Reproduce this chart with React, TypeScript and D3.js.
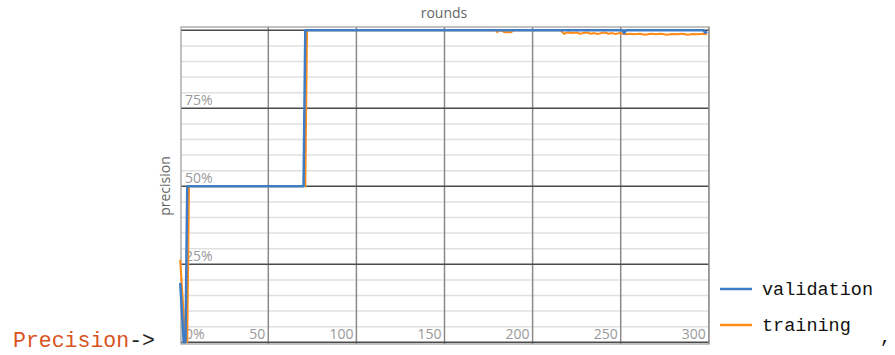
import React from "react";
import * as d3 from "d3";

const valRounds = [0, 2, 3, 4, 70, 71, 251, 252, 253, 297, 298, 299];
const valValues = [0.19, 0, 0, 0.5, 0.5, 1, 1, 0.99, 1, 1, 0.992, 0.996];

const trainRounds = [0, 3, 4, 5, 71, 72, 179, 180, 181, 182, 184, 185, 188, 189, 190, 216, 217, 218, 219, 221, 223, 225, 227, 229, 231, 233, 235, 237, 239, 241, 243, 245, 247, 249, 251, 253, 255, 258, 261, 264, 267, 270, 273, 276, 279, 282, 285, 288, 291, 294, 297, 299];
const trainValues = [0.265, 0, 0, 0.5, 0.5, 1, 1, 0.994, 1, 1, 0.994, 0.994, 0.994, 1, 1, 1, 0.993, 0.988, 0.992, 0.993, 0.991, 0.993, 0.989, 0.991, 0.993, 0.989, 0.991, 0.988, 0.991, 0.993, 0.989, 0.991, 0.988, 0.991, 0.989, 0.987, 0.989, 0.987, 0.989, 0.986, 0.989, 0.987, 0.989, 0.986, 0.988, 0.987, 0.989, 0.986, 0.988, 0.987, 0.989, 0.987];

const xTicks = [50, 100, 150, 200, 250, 300];
const yMajor = [0, 0.25, 0.5, 0.75, 1];
const yMinor = [0.05, 0.1, 0.15, 0.2, 0.3, 0.35, 0.4, 0.45, 0.55, 0.6, 0.65, 0.7, 0.8, 0.85, 0.9, 0.95];
const yLabels = [0, 0.25, 0.5, 0.75];

const series = [
  { name: "training", color: "#ff8c1a", rounds: trainRounds, values: trainValues, width: 2 },
  { name: "validation", color: "#3f7cc6", rounds: valRounds, values: valValues, width: 2.5 },
];

export default function App() {
  const x = d3.scaleLinear().domain([0, 300]).range([180.2, 708.8]);
  const y = d3.scaleLinear().domain([0, 1]).range([342.3, 30.3]);
  const line = d3
    .line<[number, number]>()
    .x((d) => x(d[0]))
    .y((d) => y(d[1]));
  const font = "'Open Sans', sans-serif";
  const mono = "'Liberation Mono', 'DejaVu Sans Mono', monospace";
  return (
    <svg width={895} height={355} style={{ position: "absolute", left: 0, top: 0, background: "#fff" }}>
      <text x={444} y={18} textAnchor="middle" fontFamily={font} fontSize={14} fill="#666">rounds</text>
      <text transform="translate(170,186) rotate(-90)" textAnchor="middle" fontFamily={font} fontSize={14} fill="#666">precision</text>
      {yMinor.map((v) => (
        <line key={"m" + v} x1={181} x2={709} y1={y(v)} y2={y(v)} stroke="#e0e0e0" strokeWidth={1.5} />
      ))}
      {xTicks.map((t) => (
        <line key={"v" + t} x1={x(t)} x2={x(t)} y1={27} y2={344} stroke="#8a8a8a" strokeWidth={1.5} />
      ))}
      {yMajor.map((v) => (
        <line key={"M" + v} x1={181} x2={709} y1={y(v)} y2={y(v)} stroke="#4a4a4a" strokeWidth={1.5} />
      ))}
      <rect x={181} y={27} width={528} height={317} fill="none" stroke="#999" strokeWidth={1.2} />
      {yLabels.map((v) => (
        <text key={"yl" + v} x={185} y={y(v) - 3} fontFamily={font} fontSize={14} fill="#999">
          {d3.format(".0%")(v)}
        </text>
      ))}
      {xTicks.map((t) => (
        <text key={"xl" + t} x={x(t) - 3} y={339} textAnchor="end" fontFamily={font} fontSize={14} fill="#999">
          {t}
        </text>
      ))}
      {series.map((s) => (
        <path
          key={s.name}
          d={line(s.rounds.map((r, i) => [r, s.values[i]] as [number, number])) || ""}
          fill="none"
          stroke={s.color}
          strokeWidth={s.width}
          strokeLinejoin="round"
        />
      ))}
      <line x1={720} x2={752} y1={289} y2={289} stroke="#3f7cc6" strokeWidth={2.5} />
      <text x={762} y={295} fontFamily={mono} fontSize={18.5} fill="#111">validation</text>
      <line x1={720} x2={752} y1={325} y2={325} stroke="#ff8c1a" strokeWidth={2.5} />
      <text x={762} y={331} fontFamily={mono} fontSize={18.5} fill="#111">training</text>
      <text x={13} y={347} fontFamily={mono} fontSize={21.5} fill="#d9531e">
        Precision<tspan fill="#222">-&gt;</tspan>
      </text>
      <text x={880} y={343} fontFamily={mono} fontSize={18.5} fill="#111">,</text>
    </svg>
  );
}
